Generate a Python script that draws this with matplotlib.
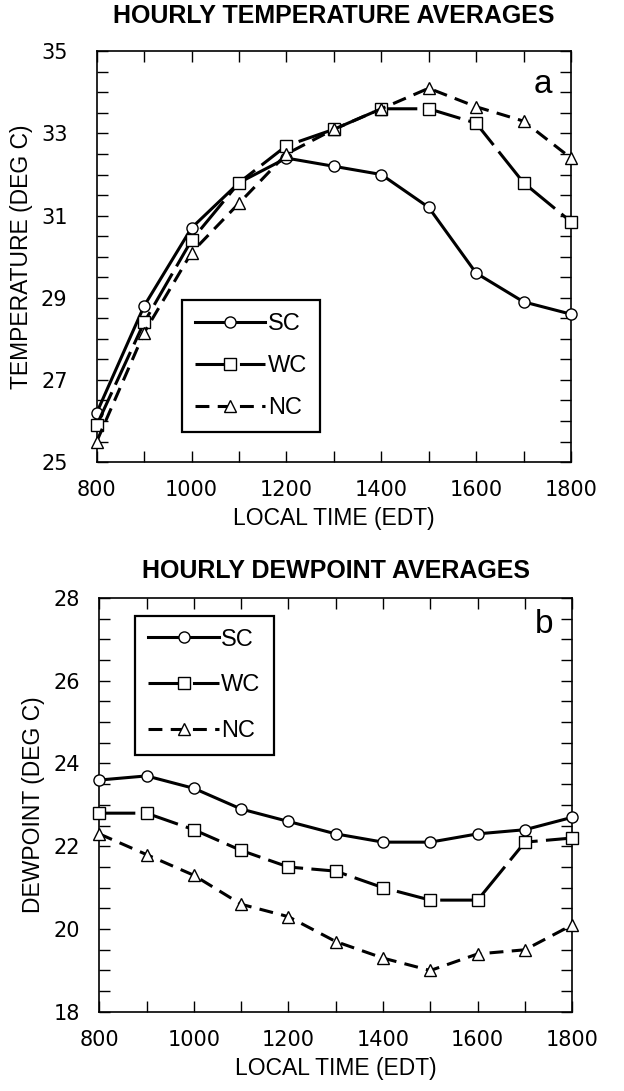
import matplotlib
matplotlib.use("Agg")
import matplotlib.pyplot as plt
from matplotlib.ticker import MultipleLocator

plt.rcParams['font.family'] = ['Liberation Sans', 'DejaVu Sans']
plt.rcParams['lines.scale_dashes'] = False

hours = [800, 900, 1000, 1100, 1200, 1300, 1400, 1500, 1600, 1700, 1800]

# hourly temperature (deg C)
temp_sc = [26.2, 28.8, 30.7, 31.8, 32.4, 32.2, 32.0, 31.2, 29.6, 28.9, 28.6]
temp_wc = [25.9, 28.4, 30.4, 31.8, 32.7, 33.1, 33.6, 33.6, 33.25, 31.8, 30.85]
temp_nc = [25.5, 28.15, 30.1, 31.3, 32.5, 33.1, 33.6, 34.1, 33.65, 33.3, 32.4]

# hourly dewpoint (deg C)
dew_sc = [23.6, 23.7, 23.4, 22.9, 22.6, 22.3, 22.1, 22.1, 22.3, 22.4, 22.7]
dew_wc = [22.8, 22.8, 22.4, 21.9, 21.5, 21.4, 21.0, 20.7, 20.7, 22.1, 22.2]
dew_nc = [22.3, 21.8, 21.3, 20.6, 20.3, 19.7, 19.3, 19.0, 19.4, 19.5, 20.1]

x_ticks = [800, 1000, 1200, 1400, 1600, 1800]

fig = plt.figure(figsize=(6.24, 10.91), dpi=100)
ax_t = fig.add_axes([0.155, 0.5765, 0.76, 0.3765])
ax_d = fig.add_axes([0.159, 0.0725, 0.758, 0.3795])


def draw_panel(ax, sc, wc, nc, ylim, yticks, ypad, title, title_pad, ylabel, letter,
               letter_y, legend_pos, legend_space):
    lw = 2.2
    mk = dict(ms=8, mfc='white', mec='black', mew=1.0, clip_on=False, zorder=3)
    ax.plot(hours, sc, color='black', lw=lw, ls='-', marker='o', label='SC', **mk)
    ax.plot(hours, wc, color='black', lw=lw, dashes=(26, 6), marker='s', label='WC', **mk)
    ax.plot(hours, nc, color='black', lw=lw, dashes=(10, 6), marker='^', label='NC', **mk)

    ax.set_xlim(800, 1800)
    ax.set_ylim(*ylim)
    ax.set_xticks(x_ticks)
    ax.xaxis.set_minor_locator(MultipleLocator(100))
    ax.set_yticks(yticks)
    ax.yaxis.set_minor_locator(MultipleLocator(0.5))
    ax.tick_params(which='both', direction='in', top=True, right=True,
                   length=8, width=1.0, labelsize=15, labelfontfamily='DejaVu Sans')
    ax.tick_params(axis='y', pad=ypad)
    ax.tick_params(axis='x', pad=13)
    for sp in ax.spines.values():
        sp.set_linewidth(1.2)

    ax.set_title(title, fontsize=18, fontweight='bold', pad=title_pad)
    ax.set_xlabel('LOCAL TIME (EDT)', fontsize=16.5, labelpad=5)
    ax.set_ylabel(ylabel, fontsize=16.5, labelpad=6)
    ax.text(0.96, letter_y, letter, transform=ax.transAxes, fontsize=24,
            ha='right', va='center')

    leg = ax.legend(loc='upper left', bbox_to_anchor=legend_pos,
                    prop={'size': 17},
                    frameon=True, fancybox=False, edgecolor='black', framealpha=1,
                    handlelength=3.0, handletextpad=0.1, labelspacing=legend_space,
                    borderpad=0.55, borderaxespad=0, markerscale=1.0)
    leg.get_frame().set_linewidth(1.6)


draw_panel(ax_t, temp_sc, temp_wc, temp_nc, (25, 35), [25, 27, 29, 31, 33, 35], 21,
           'HOURLY TEMPERATURE AVERAGES', 20, 'TEMPERATURE (DEG C)', 'a', 0.92,
           (0.179, 0.394), 0.85)
draw_panel(ax_d, dew_sc, dew_wc, dew_nc, (18, 28), [18, 20, 22, 24, 26, 28], 14,
           'HOURLY DEWPOINT AVERAGES', 14, 'DEWPOINT (DEG C)', 'b', 0.935,
           (0.076, 0.957), 1.0)

fig.savefig('out.png', dpi=100)
